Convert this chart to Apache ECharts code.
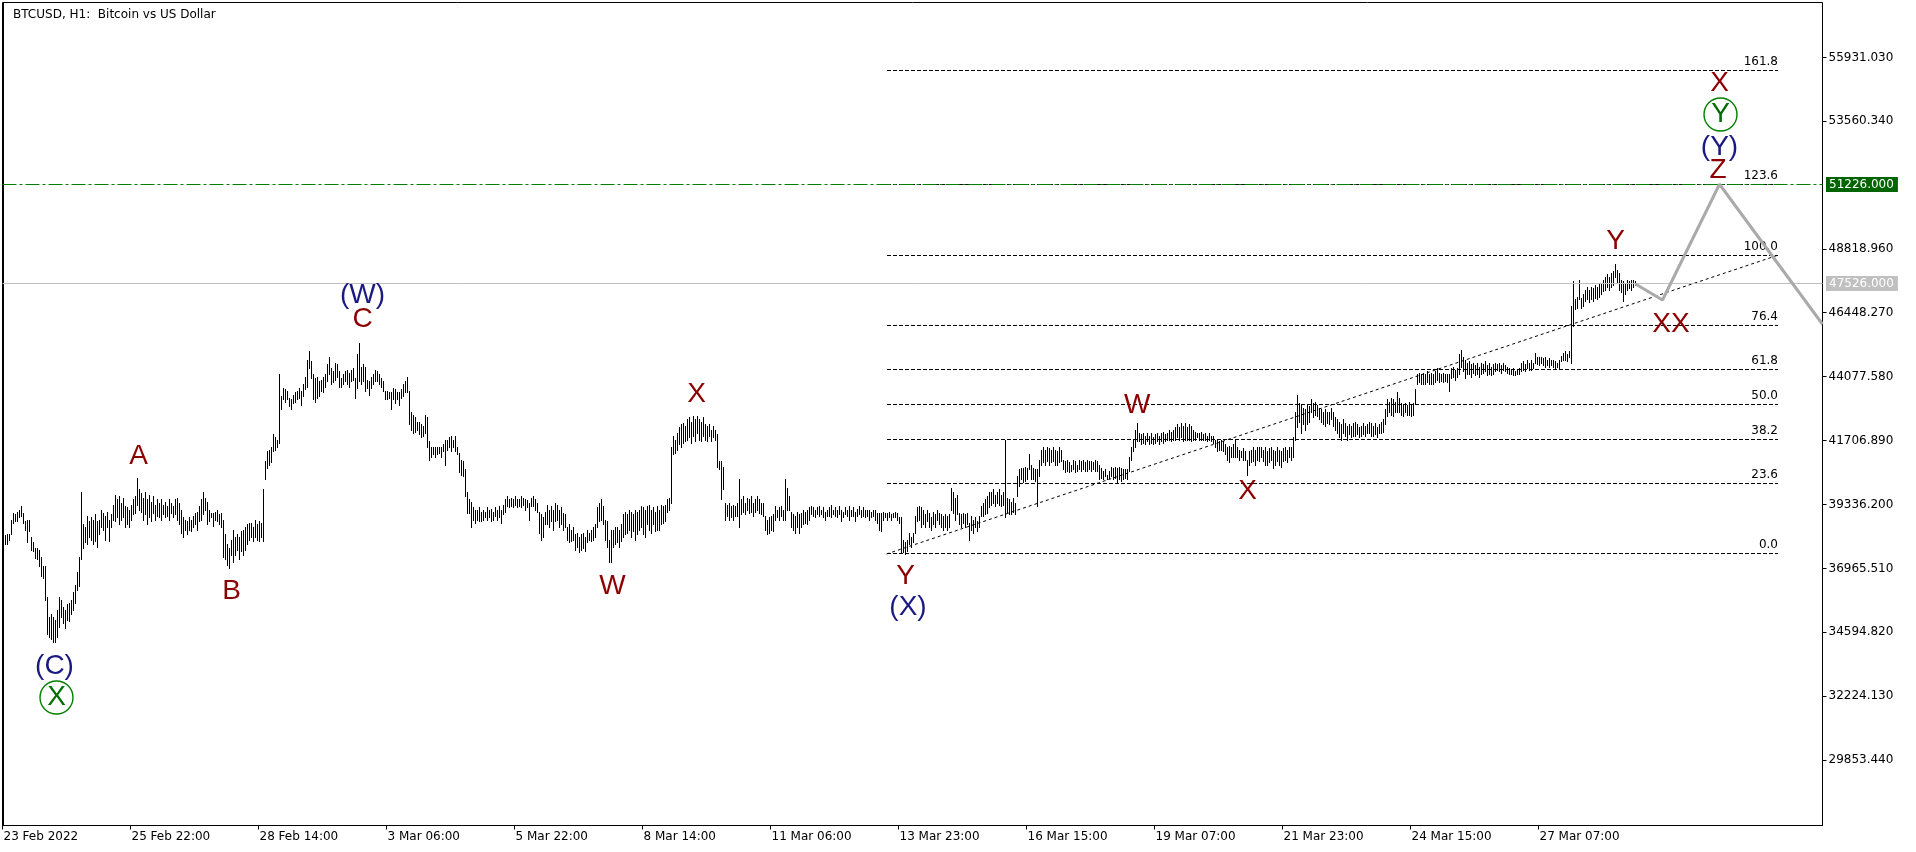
<!DOCTYPE html>
<html><head><meta charset="utf-8">
<script src="https://cdn.jsdelivr.net/npm/echarts@6/dist/echarts.min.js"></script>
<style>html,body{margin:0;padding:0;background:#fff}#c{width:1916px;height:852px}</style>
</head><body><div id="c"></div>
<script>
const chartTitle = 'BTCUSD, H1:  Bitcoin vs US Dollar';
const timeLabels = ['23 Feb 2022','25 Feb 22:00','28 Feb 14:00','3 Mar 06:00','5 Mar 22:00','8 Mar 14:00','11 Mar 06:00','13 Mar 23:00','16 Mar 15:00','19 Mar 07:00','21 Mar 23:00','24 Mar 15:00','27 Mar 07:00'];
const timeLabelBars = [0,64,128,192,256,320,384,448,512,576,640,704,768];
const priceTicks = [29853.44,32224.13,34594.82,36965.51,39336.20,41706.89,44077.58,46448.27,48818.96,53560.34,55931.03];

const barHigh = [
38130,38170,38210,38240,38760,39020,38950,39060,39130,39250,
39020,38690,38760,38760,38100,37910,37720,37720,37650,37390,
37020,37020,35900,35160,35240,35130,35050,35420,35870,35790,
35530,35420,35640,35680,35790,36090,36350,36800,37390,39770,
38580,38470,38880,38690,38840,38760,38950,38690,38760,39130,
39020,38880,39060,38760,38950,39320,39690,39510,39620,39390,
39580,39280,39210,39130,39320,39510,39620,40290,39880,39730,
39580,39770,39510,39690,39430,39620,39320,39510,39390,39510,
39320,39430,39280,39510,39390,39250,39510,39580,39390,39130,
38840,38760,38690,38840,38760,38880,39020,39060,39280,39510,
39800,39580,39430,39130,39020,38990,39060,39130,38950,38990,
38760,38210,37840,37720,38020,38390,38100,38210,38130,38320,
38390,38470,38580,38650,38620,38500,38760,38580,38690,38650,
39880,40920,41290,41360,41440,41920,41810,41730,44150,43330,
43660,43590,43520,43290,43220,43400,43480,43550,43660,43520,
43780,44070,44700,45000,44630,44150,44030,44070,43890,43960,
44070,44150,44520,44780,44400,44260,44590,44520,44260,44030,
44150,44260,44330,44220,44330,44400,44030,44890,45330,44440,
44520,44440,43960,43890,44070,44150,44330,44260,44150,44030,
43890,43520,43520,43480,43480,43660,43590,43480,43480,43590,
43780,43890,44070,43520,42740,42660,42550,42400,42400,42290,
42220,42660,42550,41660,41470,41470,41440,41470,41470,41470,
41550,41730,41730,41810,41850,41730,41850,41470,41250,40990,
40920,40620,39800,39510,39430,39210,39130,39100,39210,39060,
39130,39060,39210,39100,39170,39060,39210,39130,39280,39130,
39320,39510,39620,39510,39580,39510,39620,39540,39510,39620,
39580,39510,39470,39390,39580,39620,39510,39390,39060,38950,
38840,39060,39320,39130,39250,39130,39390,39320,39130,39210,
39020,38950,38500,38580,38390,38500,38210,38280,38130,38210,
38280,38130,38390,38280,38390,38470,38580,39210,39390,39510,
39250,38760,38690,38020,38390,38390,38500,38470,38390,38580,
38950,39060,38950,39130,39060,38950,39130,39060,39130,39250,
39210,39130,39250,39320,39130,39210,39060,39250,39130,39320,
39250,39320,39510,39580,41440,41850,41730,41990,42180,42290,
42360,42220,42480,42550,42400,42590,42480,42590,42480,42400,
42550,42290,42220,42290,42100,42220,42100,41920,40920,40920,
40730,39390,39320,39390,39250,39320,39280,39390,40250,39510,
39620,39390,39580,39510,39620,39390,39510,39620,39510,39390,
39390,38880,38760,38840,38880,38950,39250,39130,39210,39250,
39130,40250,39950,39620,39060,38950,38880,39060,38950,39020,
39130,39060,39130,39210,39250,39210,39130,39210,39250,39130,
39210,39060,39130,39210,39320,39130,39210,39130,39250,39130,
39060,39210,39130,39250,39130,39210,39060,39170,39250,39130,
39210,39130,39100,39130,39060,39130,39100,39020,38990,39020,
39060,39020,38990,39060,38950,39020,39060,38990,38840,38840,
38020,37910,38020,38280,38130,38280,38880,39210,39250,39210,
39130,38950,39130,39020,38840,39060,38950,39130,39020,38950,
38880,38950,38880,38950,39950,39770,39580,39690,39020,38950,
39020,38950,39020,38650,38880,38760,38840,38690,38880,39250,
39390,39510,39620,39770,39800,39880,39690,39800,39880,39690,
39800,41730,39580,39510,39430,39580,39390,40360,40620,40690,
40690,40730,40690,41180,40800,40690,40620,40620,40990,41360,
41440,41360,41440,41400,41360,41440,41360,41290,41440,41360,
40990,40920,40990,40880,40800,40990,40920,40800,40990,40920,
40990,40880,40990,40920,40950,40880,40990,40920,40800,40690,
40550,40620,40430,40550,40730,40690,40730,40690,40730,40690,
40620,40620,40620,41070,41470,41730,42100,42360,41990,41920,
41990,41850,41960,41880,41990,41810,41920,41960,41880,41990,
42030,41920,41990,42070,42030,42100,42180,42290,42180,42360,
42250,42330,42180,42290,42220,42100,42030,41990,41960,42030,
41920,41990,41880,41960,41850,41880,41730,41700,41660,41730,
41660,41550,41470,41510,41440,41550,41730,41440,41360,41290,
41400,41290,40990,41290,41360,41440,41360,41470,41440,41470,
41360,41440,41290,41400,41470,41360,41290,41440,41360,41290,
41400,41440,41360,41470,41440,41810,42740,43400,43100,43030,
42920,42850,43030,42960,43220,43100,43140,43030,42920,42850,
42770,42850,42740,42770,42920,42740,42550,42480,42400,42290,
42480,42360,42220,42290,42220,42330,42400,42290,42180,42250,
42360,42220,42290,42400,42330,42250,42360,42180,42290,42400,
42480,42850,43220,43140,43290,43220,43140,43480,43290,43100,
43030,43100,43030,43140,43030,43100,43590,44150,44220,44180,
44220,44150,44260,44180,44220,44150,44260,44400,44220,44150,
44220,44180,44150,44150,44400,44440,44330,44400,44890,45070,
44810,44700,44590,44630,44520,44590,44480,44560,44440,44590,
44520,44630,44480,44560,44440,44520,44590,44520,44560,44480,
44590,44480,44440,44400,44330,44370,44260,44330,44400,44560,
44630,44520,44700,44590,44670,44590,44960,44810,44780,44810,
44740,44780,44700,44740,44700,44670,44630,44590,44700,44850,
44960,45000,44890,45000,46670,47600,46930,47040,47640,47000,
47120,47300,47380,47300,47410,47340,47450,47380,47490,47560,
47670,47780,47860,47750,47900,47970,48230,48040,47930,47670,
47600,47560,47670,47600,47670,47640,47600];

const barLow = [
37800,37840,37870,38020,38240,38650,38690,38690,38840,38880,
38650,38390,37910,38320,37650,37580,37350,37280,37020,36650,
36610,35790,34500,34420,34310,34230,34230,34420,34790,35130,
34940,34750,35050,34980,35240,35420,35680,36160,36280,37280,
37720,37910,37840,38130,38020,37840,37950,37760,38210,38500,
38390,38020,38470,37950,38500,38760,38690,38840,38580,38760,
38840,38500,38580,38500,38760,38950,39020,39320,39130,39060,
38760,38950,38580,38840,38690,38990,38760,38910,38840,38760,
38950,38840,38880,38760,38990,38840,38950,38760,38580,38280,
38130,38390,38210,38390,38320,38470,38580,38390,38690,38760,
38950,39130,38580,38690,38840,38540,38760,38690,38580,38470,
37390,37280,37090,36980,37460,37200,37460,37650,37280,37580,
37460,37650,37840,38020,38100,37950,38100,38020,37950,38130,
37950,40250,40690,40770,40880,41290,41360,41470,41620,42850,
43220,43140,43220,42960,42850,43100,43140,43220,43290,43030,
43330,43590,43700,44400,44030,43220,43140,43290,43330,43520,
43480,43700,43890,44150,43780,43850,43960,44070,43700,43700,
43780,43890,43780,43700,43890,43960,43290,43660,43890,43780,
43890,43520,43660,43400,43660,43780,43890,43890,43780,43700,
43520,43220,43220,43290,42850,43220,43100,43220,43030,43290,
43330,43480,43480,42290,42100,41990,42030,42100,41920,41810,
41850,41990,41440,40990,41070,41180,41100,41180,41250,41070,
41290,40800,41360,41440,41290,41440,41290,41180,40510,40430,
40360,39620,39020,39020,38500,38760,38650,38760,38690,38690,
38760,38840,38760,38840,38690,38760,38880,38760,38840,38650,
38950,39060,39250,39210,39280,39210,39320,39210,39250,39210,
39320,39130,39210,38760,39250,39280,39130,39060,38280,38020,
38130,38580,38580,38470,38690,38390,38690,38760,38500,38580,
38390,38470,38020,37910,37950,38020,37650,37760,37540,37650,
37720,37580,37910,38020,37950,38020,38130,38500,38690,38760,
38580,38020,37760,37170,37200,37760,37840,37910,37760,37950,
38100,38210,38280,38390,38100,38320,38020,38210,38390,38500,
38210,38130,38580,38390,38280,38580,38320,38390,38390,38580,
38650,38690,39060,39130,39390,41180,41250,41360,41550,41440,
41620,41660,41730,41810,41620,41850,41660,41990,41730,41660,
41850,41730,41660,41850,41660,41810,41730,40730,40620,39510,
39880,38760,38880,38760,38840,38760,38880,38880,38500,38950,
39060,38950,39130,39020,39060,38880,39060,39130,38990,38950,
38880,38390,38210,38280,38390,38320,38760,38840,38760,38880,
38760,38760,39130,39130,38500,38390,38280,38500,38280,38470,
38580,38650,38580,38760,38950,38880,38840,38950,38880,38950,
38840,38760,38880,38910,38840,38950,38880,38840,38950,38690,
38840,38950,38880,38760,38910,38880,38690,38910,38950,38840,
38880,38840,38880,38760,38840,38880,38760,38650,38390,38320,
38760,38840,38760,38840,38760,38840,38840,38760,38650,37540,
37540,37500,37580,37840,37760,37910,38280,38690,38760,38500,
38580,38500,38690,38470,38390,38580,38500,38760,38580,38500,
38390,38470,38390,38500,39130,39020,38760,38950,38580,38500,
38650,38500,38580,38020,38390,38280,38500,38320,38470,38880,
38880,38950,39020,39210,39320,39390,39250,39390,39320,39250,
39320,38840,39060,38950,38950,39060,38950,39620,39990,40250,
40140,40180,40250,40620,40250,40250,40180,39250,40360,40800,
40880,40800,40920,40800,40880,40920,40800,40800,40880,40920,
40620,40510,40550,40510,40550,40620,40510,40550,40620,40550,
40620,40550,40580,40620,40550,40620,40550,40580,40250,40320,
40250,40360,40250,40320,40360,40250,40320,40140,40250,40180,
40250,40320,40250,40550,40990,41290,41440,41660,41660,41550,
41620,41550,41660,41580,41620,41550,41620,41660,41550,41660,
41620,41660,41700,41730,41660,41700,41730,41810,41730,41810,
41660,41730,41700,41730,41660,41730,41730,41810,41700,41730,
41730,41700,41660,41730,41660,41620,41470,41290,41360,41330,
41290,41180,40990,40880,41070,41100,41070,41100,40990,41070,
40990,40990,40430,40800,40880,40920,40800,40990,40950,41070,
40920,40800,40770,40880,40990,40690,40770,40920,40800,40730,
40920,40990,40880,41070,40990,41100,41730,42180,42400,41990,
42290,42100,42290,42400,42740,42550,42660,42590,42480,42400,
42290,42220,42360,42290,42480,42220,42100,41990,41810,41730,
41990,41850,41730,41920,41810,41880,41850,41920,41810,41880,
41920,41850,41960,41960,41880,41850,41920,41810,41990,41990,
42030,42290,42590,42740,42660,42590,42740,42740,42770,42660,
42590,42770,42660,42630,42590,42660,43100,43780,43850,43780,
43810,43780,43850,43810,43780,43810,43850,43960,43850,43890,
43850,43890,43850,43520,44030,44070,43960,44070,44150,44440,
44260,44030,44150,44180,44070,44220,44110,44180,44070,44150,
44220,44260,44110,44180,44110,44180,44260,44300,44260,44220,
44330,44260,44220,44180,44150,44110,44110,44150,44180,44260,
44330,44260,44400,44300,44330,44370,44590,44520,44480,44560,
44480,44440,44480,44440,44480,44440,44400,44440,44400,44630,
44700,44670,44630,44780,44590,45930,46560,46600,46930,46630,
46670,46860,46930,46820,46930,46890,47000,46930,47040,47120,
47230,47300,47380,47300,47410,47450,47750,47560,47300,47190,
46860,47120,47300,47340,47300,47380,47450];

// Fibonacci retracement (anchors in bar index / price)
const fibLevels = [0.0, 23.6, 38.2, 50.0, 61.8, 76.4, 100.0, 123.6, 161.8];
const fibAnchorBars = [441.5, 887.5];
const fibAnchorPrices = [37502, 48600];

// horizontal lines
const hLinePrices = [51226, 47526];

// projected path
const projBars = [816, 829.5, 858, 909.5];
const projPrices = [47526, 46930, 51226, 46030];

// wave labels
const waveText  = ['(C)','X','A','B','(W)','C','W','X','Y','(X)','W','X','Y','XX','X','Y','(Y)','Z'];
const waveKind  = ['blue','circle','red','red','blue','red','red','red','red','blue','red','red','red','red','red','circle','blue','red'];
const waveBar   = [25.5,26.5,67.5,114,179.5,179.5,304.5,346.5,451,452.25,566.85,622,806,833.75,858,858.5,858,857.25];
const wavePrice = [33326,32175,41139,36128,47097,46206,36288,43441,36685,35534,43021,39822,49101,46020,54984,53815,52609,51737];

const FONT = '"DejaVu Sans", Verdana, sans-serif';
const LFONT = '28px "Liberation Sans", Arial, sans-serif';
const RED = '#8b0000', BLUE = '#1a1a80', GREEN = '#006e00';

const n = Math.min(barHigh.length, barLow.length);
const barData = [];
for (let i = 0; i < n; i++) barData.push([i, barLow[i], barHigh[i]]);

const fibData = fibLevels.map(l => [fibAnchorBars[0], fibAnchorPrices[0] + (fibAnchorPrices[1]-fibAnchorPrices[0])*l/100, l]);

const chart = echarts.init(document.getElementById('c'), null, {renderer:'canvas'});
chart.setOption({
  animation:false,
  backgroundColor:'#fff',
  title:{text:chartTitle, left:8, top:4, textStyle:{fontFamily:FONT, fontSize:12, fontWeight:'normal', color:'#000'}},
  grid:{left:2.5, right:93.5, top:2.5, bottom:26.5, show:true, borderColor:'#000', borderWidth:1, backgroundColor:'#fff'},
  xAxis:{type:'value', min:-0.5, max:909.5,
    axisLine:{show:true, lineStyle:{color:'#000', width:1}},
    axisTick:{show:false},
    axisLabel:{show:true, customValues:timeLabelBars, align:'left', margin:5, color:'#000', fontFamily:FONT, fontSize:12,
      formatter:v => timeLabels[timeLabelBars.indexOf(v)] || ''},
    splitLine:{show:false}},
  yAxis:{type:'value', position:'right', min:27424, max:57972.5, scale:true,
    axisLine:{show:true, lineStyle:{color:'#000', width:1}},
    axisTick:{show:false},
    axisLabel:{show:true, customValues:priceTicks, margin:6, color:'#000', fontFamily:FONT, fontSize:12,
      formatter:v => v.toFixed(3)},
    splitLine:{show:false}},
  series:[
    { // price axis ticks
      type:'custom', silent:true, z:6, clip:false,
      encode:{y:0},
      data:priceTicks.map(v => [v]),
      renderItem:(p, api) => {
        const cs = p.coordSys;
        const pt = api.coord([0, api.value(0)]);
        const y = Math.round(pt[1] - 0.5) + 0.5;
        const x = cs.x + cs.width;
        return {type:'line', shape:{x1:x, y1:y, x2:x + 4, y2:y}, style:{stroke:'#000', lineWidth:1}};
      }
    },
    { // time axis ticks
      type:'custom', silent:true, z:6, clip:false,
      encode:{x:0},
      data:timeLabelBars.map(v => [v]),
      renderItem:(p, api) => {
        const cs = p.coordSys;
        const pt = api.coord([api.value(0), 0]);
        const x = Math.round(pt[0] - 0.5) - 0.5;
        const y = cs.y + cs.height;
        return {type:'line', shape:{x1:x, y1:y, x2:x, y2:y + 4}, style:{stroke:'#000', lineWidth:1}};
      }
    },
    { // fibonacci levels
      type:'custom', silent:true, z:1, clip:false,
      encode:{x:0, y:1},
      data:fibData,
      renderItem:(p, api) => {
        const price = api.value(1), lvl = api.value(2);
        const a = api.coord([fibAnchorBars[0], price]);
        const b = api.coord([fibAnchorBars[1] - 0.5, price]);
        const y = Math.round(a[1] - 0.5) + 0.5;
        return {type:'group', children:[
          {type:'line', shape:{x1:Math.round(a[0]), y1:y, x2:Math.round(b[0]), y2:y}, style:{stroke:'#000', lineWidth:1, lineDash:[4,2]}},
          {type:'text', x:Math.round(b[0]), y:y-3, style:{text:lvl.toFixed(1), fill:'#000', font:'12px ' + FONT, align:'right', verticalAlign:'bottom'}}
        ]};
      }
    },
    { // fib diagonal
      type:'custom', silent:true, z:1, clip:false,
      encode:{x:0, y:1},
      data:[[fibAnchorBars[0], fibAnchorPrices[0], fibAnchorBars[1], fibAnchorPrices[1]]],
      renderItem:(p, api) => {
        const a = api.coord([api.value(0), api.value(1)]);
        const b = api.coord([api.value(2), api.value(3)]);
        return {type:'line', shape:{x1:a[0], y1:a[1], x2:b[0], y2:b[1]}, style:{stroke:'#000', lineWidth:1, lineDash:[3,3]}};
      }
    },
    { // horizontal lines + price boxes
      type:'custom', silent:true, z:3, clip:false,
      encode:{y:0},
      data:hLinePrices.map((v,k) => [v, k]),
      renderItem:(p, api) => {
        const v = api.value(0), k = api.value(1);
        const cs = p.coordSys;
        const pt = api.coord([0, v]);
        const y = Math.round(pt[1] - 0.5) + 0.5;
        const green = k === 0;
        return {type:'group', children:[
          {type:'line', shape:{x1:cs.x, y1:y, x2:cs.x + cs.width, y2:y},
            style:{stroke: green ? '#008000' : '#c0c0c0', lineWidth:1, lineDash: green ? [14,3,3,3] : null}},
          {type:'text', x:cs.x + cs.width + 3.5, y:y, style:{text:v.toFixed(3), fill:'#fff', font:'12px ' + FONT,
            align:'left', verticalAlign:'middle', backgroundColor: green ? '#006400' : '#c0c0c0', padding:[2,4,1,3]}}
        ]};
      }
    },
    { // price bars
      type:'custom', silent:true, z:2, progressive:0,
      encode:{x:0, y:[1,2]},
      data:barData,
      renderItem:(p, api) => {
        const i = api.value(0);
        const lo = api.coord([i, api.value(1)]);
        const hi = api.coord([i, api.value(2)]);
        const x = Math.round(lo[0] - 0.5) + 0.5;
        const y1 = Math.floor(hi[1]), y2 = Math.max(Math.ceil(lo[1]), y1 + 2);
        return {type:'line', shape:{x1:x, y1:y1, x2:x, y2:y2}, style:{stroke:'#000', lineWidth:1}};
      }
    },
    { // projected path
      type:'line', silent:true, z:4, symbol:'none', clip:true,
      data:projBars.map((b,k) => [b, projPrices[k]]),
      lineStyle:{color:'#aaaaaa', width:3}
    },
    { // wave labels
      type:'custom', silent:true, z:5, clip:false,
      encode:{x:0, y:1},
      data:waveText.map((t,k) => [waveBar[k], wavePrice[k], k]),
      renderItem:(p, api) => {
        const k = api.value(2);
        const pt = api.coord([api.value(0), api.value(1)]);
        const kind = waveKind[k];
        const color = kind === 'red' ? RED : kind === 'blue' ? BLUE : GREEN;
        const ch = [];
        if (kind === 'circle') ch.push({type:'circle', shape:{cx:pt[0], cy:pt[1], r:16.5}, style:{fill:'none', stroke:'#008000', lineWidth:1.4}});
        ch.push({type:'text', x:pt[0], y:pt[1], style:{text:waveText[k], fill:color, font:LFONT, align:'center', verticalAlign:'middle'}});
        return {type:'group', children:ch};
      }
    }
  ]
});
</script>
</body></html>
